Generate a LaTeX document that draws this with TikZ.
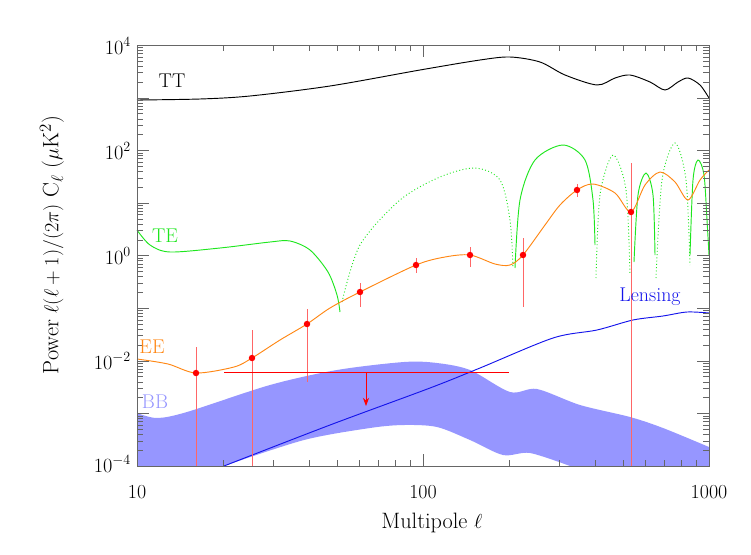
\documentclass[tikz,border=0pt]{standalone}
\usepackage{tikz}
\usetikzlibrary{arrows.meta}
\tikzset{>=stealth}
\definecolor{ttgreen}{RGB}{30,230,30}
\definecolor{eeorange}{RGB}{255,135,20}
\definecolor{bbfill}{RGB}{150,150,255}
\definecolor{lensblue}{RGB}{20,20,235}
\tikzset{
  lbl/.style={font=\fontsize{17}{20}\selectfont},
  ticklbl/.style={font=\fontsize{17}{20}\selectfont},
  errbar/.style={red!60, line width=0.5pt},
  datapt/.style={red, fill=red, circle, inner sep=0pt, minimum size=5.5pt},
}
\begin{document}
\begin{tikzpicture}[x=0.03cm, y=-0.03cm]
        \useasboundingbox (0,0) rectangle (751,554);
        % BB band
        \fill[bbfill] plot[smooth] coordinates {(137,413) (157,418) (187,412) (270,385) (337,370) (404,362) (437,363) (470,370) (510,392) (537,389) (580,405) (630,417) (663,428) (709,447)}
          -- (709,466) -- (570,466) -- plot[smooth] coordinates {(570,466) (530,453) (503,455) (470,440) (437,427) (404,425) (370,428) (304,440) (224,466)} -- (137,466) -- cycle;
        % TT
        \draw[black, thick] plot[smooth] coordinates {(137,100) (200,99) (250,96) (330,86) (420,70) (480,60) (510,57) (540,62) (565,75) (597,85) (615,78) (630,75) (650,82) (665,90) (678,82) (688,78) (700,85) (709,98)};
        % TE
        \draw[ttgreen, thick] plot[smooth] coordinates {(137,230) (150,245) (170,252) (220,248) (270,242) (290,241) (310,250) (328,272) (337,295) (340,312)};
        \draw[ttgreen, thick, dotted] plot[smooth] coordinates {(342,302) (360,245) (400,200) (440,177) (475,168) (500,180) (510,220) (513,268)};
        \draw[ttgreen, thick] plot[smooth] coordinates {(515,268) (520,200) (535,160) (563,145) (585,160) (593,200) (595,245)};
        \draw[ttgreen, thick, dotted] plot[smooth] coordinates {(596,278) (600,195) (613,155) (626,190) (630,275)};
        \draw[ttgreen, thick] plot[smooth] coordinates {(634,262) (638,195) (646,173) (653,195) (655,255)};
        \draw[ttgreen, thick, dotted] plot[smooth] coordinates {(656,278) (662,180) (675,143) (686,180) (690,265)};
        \draw[ttgreen, thick] plot[smooth] coordinates {(690,255) (693,180) (698,160) (704,175) (707,220) (709,255)};
        % Lensing
        \draw[lensblue, thick] plot[smooth] coordinates {(224,466) (330,425) (430,388) (480,368) (553,338) (597,330) (633,320) (663,316) (687,312) (709,313)};
        % error bars
        \foreach \px/\ya/\yb in {196/347/466, 252/330/466, 307/309/382, 360/283/307, 416/258/273, 470/247/267, 523/238/307, 577/184/197, 631/163/466}
          \draw[errbar] (\px,\ya) -- (\px,\yb);
        % EE
        \draw[eeorange, thick] plot[smooth] coordinates {(137,359) (168,364) (196,373) (234,367) (252,358) (280,340) (307,324) (330,308) (360,292) (416,265) (445,257) (470,255) (495,264) (510,265) (523,255) (545,225) (560,205) (577,190) (593,184) (615,193) (631,212) (645,185) (660,172) (675,182) (688,200) (700,180) (709,170)};
        % data points
        \foreach \px/\py [count=\i] in {196/373, 252/358, 307/324, 360/292, 416/265, 470/255, 523/255, 577/190, 631/212}
          \node[datapt] (pt\i) at (\px,\py) {};
        % upper limit
        \coordinate (limL) at (224,372);
        \coordinate (limR) at (509,372);
        \coordinate (limA) at (366,372);
        \coordinate (limB) at (366,406);
        \draw[red, thick] (limL) -- (limR);
        \draw[red, thick, -{Stealth[length=7pt]}] (limA) -- (limB);
        % frame and ticks
        \draw[black!60] (137,45) rectangle (709,466);
        \foreach \d in {0,1} \foreach \m in {2,...,9} {
          \draw[black!60] ({137+286*(\d+log10(\m))},466) -- ++(0,-6);
          \draw[black!60] ({137+286*(\d+log10(\m))},45) -- ++(0,6);
        }
        \foreach \d in {0,1,2} {
          \draw[black!60] ({137+286*\d},466) -- ++(0,-12);
          \draw[black!60] ({137+286*\d},45) -- ++(0,12);
        }
        \foreach \e in {0,...,7} \foreach \m in {2,...,9} {
          \draw[black!60] (137,{466-52.6*(\e+log10(\m))}) -- ++(6,0);
          \draw[black!60] (709,{466-52.6*(\e+log10(\m))}) -- ++(-6,0);
        }
        \foreach \e in {0,...,8} {
          \draw[black!60] (137,{466-52.6*\e}) -- ++(12,0);
          \draw[black!60] (709,{466-52.6*\e}) -- ++(-12,0);
        }
        % tick labels
        \node[ticklbl] (x10) at (137,492) {10};
        \node[ticklbl] (x100) at (423,492) {100};
        \node[ticklbl] (x1000) at (709,492) {1000};
        \node[ticklbl, left] (y4) at (135,46) {$10^{4}$};
        \node[ticklbl, left] (y2) at (135,151) {$10^{2}$};
        \node[ticklbl, left] (y0) at (135,256) {$10^{0}$};
        \node[ticklbl, left] (ym2) at (135,361) {$10^{-2}$};
        \node[ticklbl, left] (ym4) at (135,464) {$10^{-4}$};
        % axis labels
        \node[font=\fontsize{19}{22}\selectfont] (xlab) at (432,523) {Multipole $\ell$};
        \node[font=\fontsize{19}{22}\selectfont, rotate=90] (ylab) at (52,245) {Power $\ell(\ell+1)/(2\pi)$ C$_\ell$ ($\mu$K$^2$)};
        % curve labels
        \node[lbl, black] (tt) at (172,81) {TT};
        \node[lbl, ttgreen] (te) at (165,236) {TE};
        \node[lbl, eeorange] (ee) at (152,347) {EE};
        \node[lbl, bbfill] (bb) at (155,402) {BB};
        \node[lbl, lensblue] (lens) at (650,297) {Lensing};
\end{tikzpicture}
\end{document}
